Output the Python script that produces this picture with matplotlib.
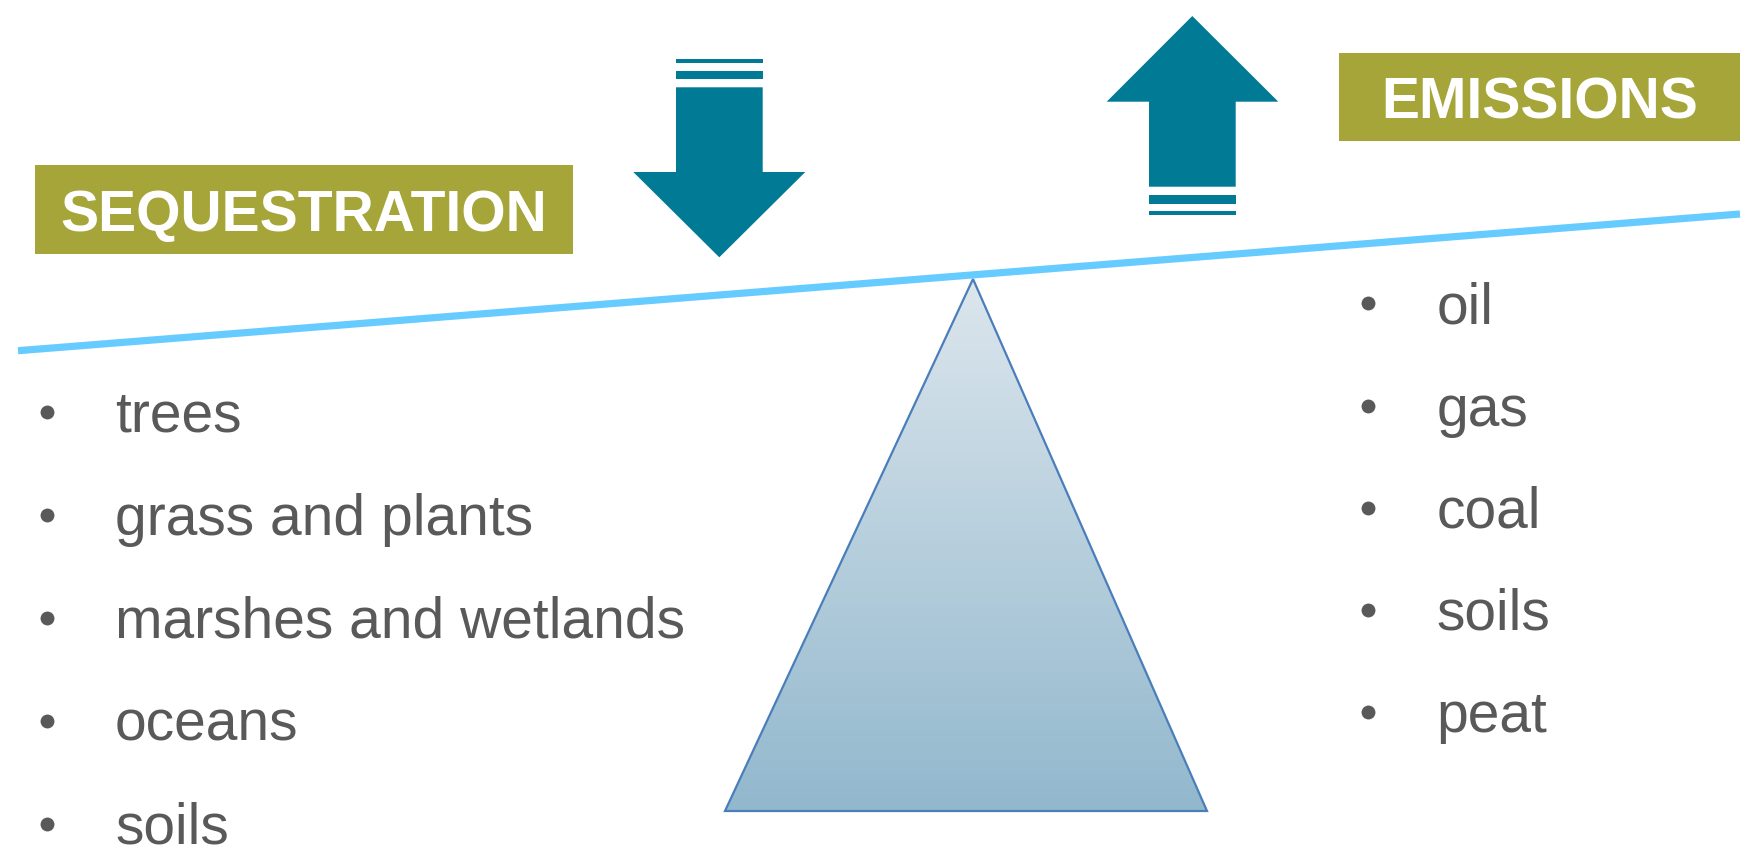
import numpy as np
import matplotlib
matplotlib.use("Agg")
import matplotlib.pyplot as plt
from matplotlib.patches import Polygon, Rectangle

# labels and bullet lists
left_title = "SEQUESTRATION"
right_title = "EMISSIONS"
left_items = ["trees", "grass and plants", "marshes and wetlands", "oceans", "soils"]
right_items = ["oil", "gas", "coal", "soils", "peat"]

olive = "#A6A539"
teal = "#017A95"
grey = "#595959"
beam_col = "#66CCFF"

W, H = 1749, 861
fig = plt.figure(figsize=(W / 100, H / 100), dpi=100)
ax = fig.add_axes([0, 0, 1, 1])
ax.set_xlim(0, W)
ax.set_ylim(H, 0)
ax.axis("off")

#  triangle with vertical gradient
tri = Polygon([(973, 279), (725, 811), (1207, 811)], closed=True,
              facecolor="none", edgecolor="#4A7EBB", linewidth=1.6, zorder=3)
ax.add_patch(tri)
grad = np.linspace(0, 1, 256).reshape(-1, 1)
cmap = matplotlib.colors.LinearSegmentedColormap.from_list("g", ["#DCE6ED", "#92B8CD"])
im = ax.imshow(grad, cmap=cmap, extent=(725, 1207, 811, 279), aspect="auto", zorder=2)
im.set_clip_path(tri)

# beam
ax.plot([18, 1740], [350.7, 214], color=beam_col, linewidth=5.2, solid_capstyle="butt", zorder=4)

# down arrow (left)
ax.add_patch(Polygon([(676, 87.3), (762.7, 87.3), (762.7, 172), (805.3, 172), (719.3, 257.3),
                      (633.3, 172), (676, 172)], closed=True, facecolor=teal, edgecolor="none"))
ax.add_patch(Rectangle((676, 70.7), 86.7, 8.6, facecolor=teal, edgecolor="none"))
ax.add_patch(Rectangle((676, 59.3), 86.7, 3.4, facecolor=teal, edgecolor="none"))

# up arrow (right)
ax.add_patch(Polygon([(1192.3, 16), (1278.3, 101.7), (1235.7, 101.7), (1235.7, 186.7),
                      (1149, 186.7), (1149, 101.7), (1106.7, 101.7)], closed=True,
                     facecolor=teal, edgecolor="none"))
ax.add_patch(Rectangle((1149, 194.7), 86.7, 9, facecolor=teal, edgecolor="none"))
ax.add_patch(Rectangle((1149, 211.3), 86.7, 3.4, facecolor=teal, edgecolor="none"))

# title boxes
ax.add_patch(Rectangle((35, 165), 537.7, 89.3, facecolor=olive, edgecolor="none"))
ax.text(303.8, 230.7, left_title, color="white", fontsize=41, fontweight="bold",
        family="Liberation Sans", ha="center", va="baseline")
ax.add_patch(Rectangle((1339, 52.7), 401, 88.6, facecolor=olive, edgecolor="none"))
ax.text(1539.5, 118.3, right_title, color="white", fontsize=41, fontweight="bold",
        family="Liberation Sans", ha="center", va="baseline")

# bullet lists
for i, t in enumerate(left_items):
    y = 412.3 + i * 103
    ax.plot(47.3, y, "o", color=grey, markersize=10, markeredgewidth=0)
    ax.text(115, y + 19.4, t, color=grey, fontsize=41, family="Liberation Sans",
            ha="left", va="baseline")

for i, t in enumerate(right_items):
    y = 303.3 + i * 102.2
    ax.plot(1368.3, y, "o", color=grey, markersize=10, markeredgewidth=0)
    ax.text(1436.7, y + 20, t, color=grey, fontsize=41, family="Liberation Sans",
            ha="left", va="baseline")

fig.savefig("out.png", dpi=100)
